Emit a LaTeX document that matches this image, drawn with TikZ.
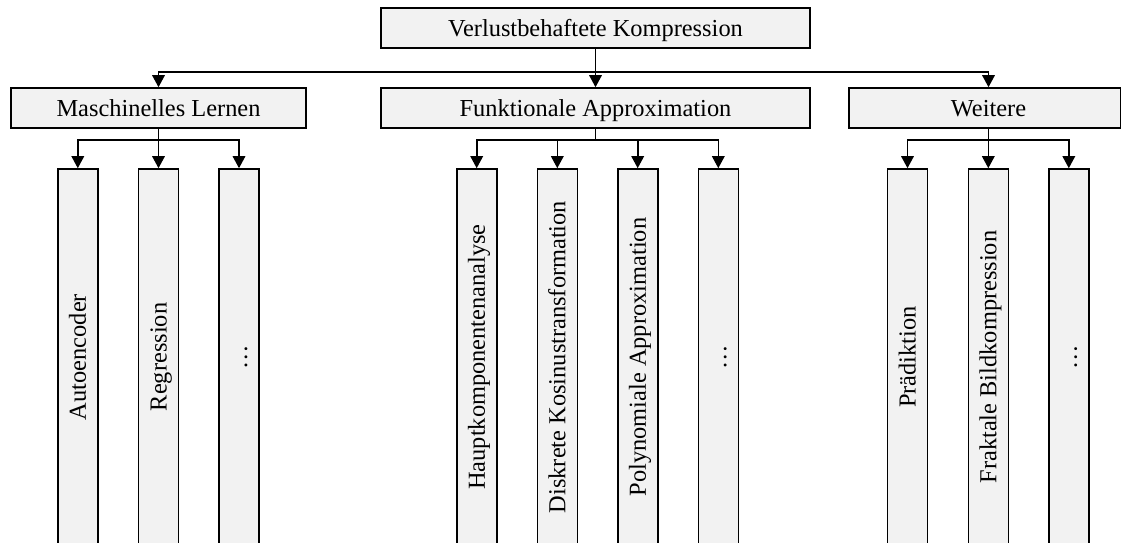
\documentclass[tikz,border=0pt]{standalone}
\usepackage{fontspec}
\usepackage{graphicx}
\setmainfont{Liberation Serif}
\usetikzlibrary{arrows.meta}
\definecolor{boxfill}{HTML}{F2F2F2}
\tikzset{
  box/.style={draw=black, fill=boxfill, line width=1.6pt, inner sep=0pt,
    minimum height=40pt, text height=16.1pt, text depth=0pt,
    font=\fontsize{24.4}{29}\selectfont},
  leaf/.style={draw=black, fill=boxfill, line width=1.6pt, inner sep=0pt,
    minimum width=40pt, minimum height=376pt,
    font=\fontsize{24.4}{29}\selectfont},
  link/.style={line width=1.6pt, -{Triangle[width=12.5pt,length=12pt]}}
}
% upright text turned to read from bottom to top, with fixed cap height
\newcommand{\up}[1]{\rotatebox{90}{\raisebox{0pt}[16.1pt][0pt]{#1}}}
\begin{document}
\begin{tikzpicture}[x=1pt,y=-1pt]
\useasboundingbox (0,0) rectangle (1121,542);
\clip (0,0) rectangle (1121,542);

% root and categories
\node[box, minimum width=429pt] (root) at (595.5,28) {Verlustbehaftete Kompression};
\node[box, minimum width=295pt] (ml) at (158.5,108) {Maschinelles Lernen};
\node[box, minimum width=429pt] (fa) at (595.5,108) {Funktionale Approximation};
\node[box, minimum width=272pt] (wei) at (985,108) {\hspace*{7pt}Weitere};
\coordinate (weiin) at ([xshift=3.5pt]wei.north);
\coordinate (weiout) at ([xshift=3.5pt]wei.south);

% leaves
\node[leaf] (ae) at (77.8,357) {\up{Autoencoder}};
\node[leaf] (reg) at (158.5,357) {\up{Regression}};
\node[leaf] (mlx) at (239,357) {\up{\dots}};
\node[leaf] (pca) at (476.7,357) {\up{Hauptkomponentenanalyse}};
\node[leaf] (dct) at (557.3,357) {\up{Diskrete Kosinustransformation}};
\node[leaf] (poly) at (637.7,357) {\up{Polynomiale Approximation}};
\node[leaf] (fax) at (718.3,357) {\up{\dots}};
\node[leaf] (pred) at (907.5,357) {\up{Prädiktion}};
\node[leaf] (frac) at (988.3,357) {\up{Fraktale Bildkompression}};
\node[leaf] (weix) at (1068.8,357) {\up{\dots}};

% root to categories
\draw[link] (root.south) -- (root.south |- 0,72) -| (ml.north);
\draw[link] (root.south) -- (fa.north);
\draw[link] (root.south) -- (root.south |- 0,72) -| (weiin);

% categories to leaves
\foreach \c in {ae,reg,mlx}
  \draw[link] (ml.south) -- (ml.south |- 0,140) -| (\c.north);
\foreach \c in {pca,dct,poly,fax}
  \draw[link] (fa.south) -- (fa.south |- 0,140) -| (\c.north);
\foreach \c in {pred,frac,weix}
  \draw[link] (weiout) -- (weiout |- 0,140) -| (\c.north);
\end{tikzpicture}
\end{document}
